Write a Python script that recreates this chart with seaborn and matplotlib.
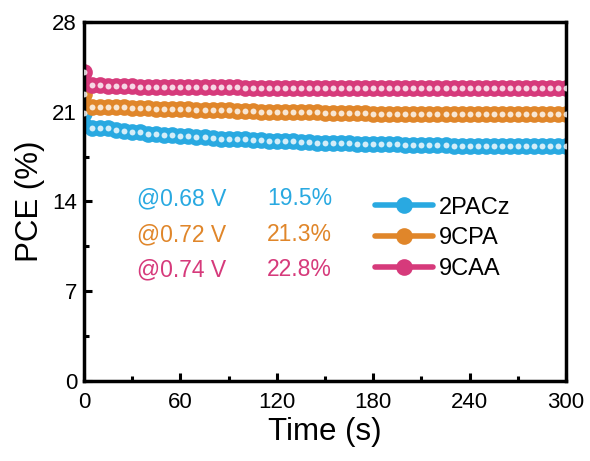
import numpy as np
import pandas as pd
import matplotlib
matplotlib.use("Agg")
import matplotlib.pyplot as plt
import seaborn as sns
from matplotlib.ticker import MultipleLocator
from matplotlib.lines import Line2D

time_s = list(range(0, 305, 5))
pce_2pacz = [20.9, 19.7, 19.7, 19.7, 19.6, 19.5, 19.4, 19.4, 19.3, 19.3, 19.2,
             19.2, 19.1, 19.1, 19.0, 19.0, 18.95, 18.9, 18.9, 18.85, 18.85,
             18.8, 18.8, 18.75, 18.75, 18.7, 18.7, 18.65, 18.65, 18.6, 18.6,
             18.6, 18.55, 18.55, 18.5, 18.5, 18.5, 18.45, 18.45, 18.45, 18.4,
             18.4, 18.4, 18.4, 18.38, 18.38, 18.36, 18.36, 18.35, 18.35, 18.34,
             18.34, 18.33, 18.33, 18.32, 18.32, 18.31, 18.31, 18.3, 18.3, 18.3]
pce_9cpa = [22.4, 21.4, 21.4, 21.4, 21.35, 21.35, 21.3, 21.3, 21.3, 21.25, 21.25,
            21.2, 21.2, 21.2, 21.15, 21.15, 21.1, 21.1, 21.1, 21.05, 21.05,
            21.05, 21.0, 21.0, 21.0, 21.0, 20.95, 20.95, 20.95, 20.95, 20.9,
            20.9, 20.9, 20.9, 20.9, 20.9, 20.85, 20.85, 20.85, 20.85, 20.85,
            20.85, 20.85, 20.8, 20.8, 20.8, 20.8, 20.8, 20.8, 20.8, 20.8,
            20.8, 20.8, 20.8, 20.8, 20.8, 20.8, 20.8, 20.8, 20.8, 20.8]
pce_9caa = [24.1, 23.05, 23.05, 23.0, 23.0, 23.0, 23.0, 22.95, 22.95, 22.95, 22.95,
            22.95, 22.9, 22.9, 22.9, 22.9, 22.9, 22.9, 22.9, 22.9, 22.85,
            22.85, 22.85, 22.85, 22.85, 22.85, 22.85, 22.85, 22.85, 22.85, 22.85,
            22.85, 22.85, 22.85, 22.85, 22.85, 22.85, 22.85, 22.85, 22.85, 22.85,
            22.85, 22.85, 22.85, 22.85, 22.85, 22.85, 22.85, 22.85, 22.85, 22.85,
            22.85, 22.85, 22.85, 22.85, 22.85, 22.85, 22.85, 22.85, 22.85, 22.85]

series = ["2PACz", "9CPA", "9CAA"]
colors = ["#29A9E1", "#E0862A", "#D63A7B"]
voltages = ["@0.68 V", "@0.72 V", "@0.74 V"]
pce_labels = ["19.5%", "21.3%", "22.8%"]
x_ticks = [0, 60, 120, 180, 240, 300]
y_ticks = [0, 7, 14, 21, 28]

df = pd.concat([
    pd.DataFrame({"Time": time_s, "PCE": vals, "Device": name})
    for name, vals in zip(series, [pce_2pacz, pce_9cpa, pce_9caa])
])

sns.set_style("ticks")
plt.rcParams["font.family"] = ["Liberation Sans", "DejaVu Sans"]
plt.rcParams["text.color"] = "black"
plt.rcParams["axes.labelcolor"] = "black"
plt.rcParams["xtick.color"] = "black"
plt.rcParams["ytick.color"] = "black"
plt.rcParams["axes.edgecolor"] = "black"

fig = plt.figure(figsize=(5.9, 4.61), dpi=100)
ax = fig.add_axes([84/590, 1-381/461, 482/590, 359/461])

palette = dict(zip(series, colors))
sns.lineplot(data=df, x="Time", y="PCE", hue="Device", palette=palette,
             linewidth=4, marker="o", markersize=12, markeredgewidth=0,
             legend=False, ax=ax, sort=False)
sns.scatterplot(data=df, x="Time", y="PCE", color="white", s=18, alpha=0.8,
                linewidth=0, legend=False, ax=ax, zorder=5)

ax.set_xlim(0, 300)
ax.set_ylim(0, 28)
ax.set_xticks(x_ticks)
ax.set_yticks(y_ticks)
ax.xaxis.set_minor_locator(MultipleLocator(30))
ax.yaxis.set_minor_locator(MultipleLocator(3.5))
ax.tick_params(which="major", direction="in", length=6, width=2.2, labelsize=16, pad=5)
ax.tick_params(axis="x", which="major", pad=8)
ax.tick_params(which="minor", direction="in", length=3.5, width=2.2)
ax.tick_params(top=False, right=False, which="both")
for sp in ax.spines.values():
    sp.set_linewidth(2.5)
    sp.set_visible(True)
    sp.set_color("black")
ax.set_xlabel("Time (s)", fontsize=22.5, labelpad=3)
ax.set_ylabel("PCE (%)", fontsize=22.5, labelpad=5)

ys = [14.2, 11.4, 8.66]
for v, p, c, y in zip(voltages, pce_labels, colors, ys):
    ax.text(33, y, v, color=c, fontsize=16.5, va="center", ha="left")
    ax.text(114, y, p, color=c, fontsize=16.5, va="center", ha="left")

handles = []
for c in colors:
    handles.append(Line2D([0], [0], color=c, lw=4, marker="o", markersize=12,
                          markeredgewidth=0))
ax.legend(handles, series, loc="center left", bbox_to_anchor=(0.604, 0.397),
          frameon=False, fontsize=17, handlelength=2.45, handletextpad=0.25,
          labelspacing=0.38, borderpad=0, borderaxespad=0)

fig.savefig("out.png", dpi=100)
